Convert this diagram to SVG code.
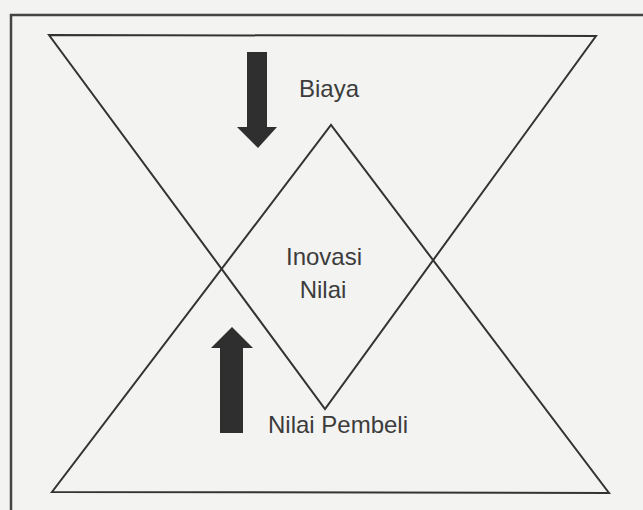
<svg xmlns="http://www.w3.org/2000/svg" width="643" height="510" viewBox="0 0 643 510">
  <style>
    .ln { fill: none; stroke: #333; stroke-width: 2; stroke-linejoin: miter; }
    .frame { fill: none; stroke: #444; stroke-width: 2.5; }
    .arrow { fill: #2f2f2f; }
    .lbl { font-family: "Liberation Sans", Arial, sans-serif; font-size: 24px; fill: #3c3c3c; text-anchor: middle; }
  </style>
  <rect x="0" y="0" width="643" height="510" fill="#f3f3f1"/>
  <g id="frame">
    <path class="frame" d="M643,15 H11 V510"/>
  </g>
  <g id="inverted-triangle">
    <polygon class="ln" points="49,35 596,36 325,409"/>
  </g>
  <g id="upright-triangle">
    <polygon class="ln" points="52,492 609,493 331,125"/>
  </g>
  <g id="connectors">
    <polygon id="arrow-down" class="arrow" points="247,52 267,52 267,127 277,127 258,148 237,127 247,127"/>
    <polygon id="arrow-up" class="arrow" points="220,433 243,433 243,348 253,348 232,327 211,348 220,348"/>
  </g>
  <g id="biaya">
    <text class="lbl" x="329" y="97">Biaya</text>
  </g>
  <g id="inovasi-nilai">
    <text class="lbl" x="324" y="265">Inovasi</text>
    <text class="lbl" x="323" y="298">Nilai</text>
  </g>
  <g id="nilai-pembeli">
    <text class="lbl" x="338" y="433">Nilai Pembeli</text>
  </g>
</svg>
